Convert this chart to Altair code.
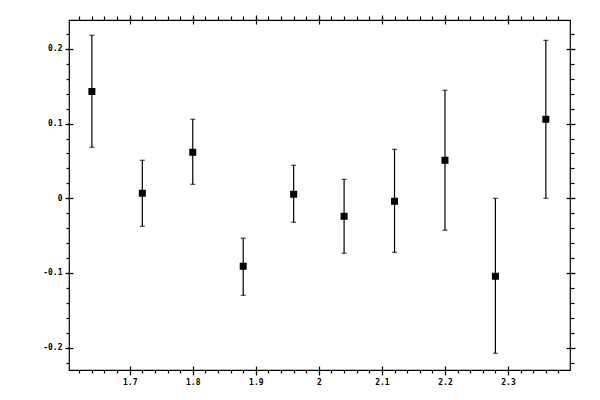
import altair as alt
import pandas as pd

# data
x_vals = [1.64, 1.72, 1.80, 1.88, 1.96, 2.04, 2.12, 2.20, 2.28, 2.36]
y_vals = [0.143, 0.0067, 0.0616, -0.091, 0.0054, -0.0241, -0.0040, 0.0509, -0.1044, 0.1058]
y_low = [0.0683, -0.0375, 0.0187, -0.1299, -0.0321, -0.0736, -0.0723, -0.0428, -0.2075, 0.0]
y_high = [0.2182, 0.0509, 0.1058, -0.0535, 0.0442, 0.0254, 0.0656, 0.1446, 0.0, 0.2115]

# tick positions
x_major = [1.7, 1.8, 1.9, 2.0, 2.1, 2.2, 2.3]
y_major = [-0.2, -0.1, 0.0, 0.1, 0.2]
x_minor = [round(1.62 + 0.02 * i, 2) for i in range(39)]
y_minor = [round(-0.22 + 0.02 * i, 2) for i in range(23)]

df = pd.DataFrame({"x": x_vals, "y": y_vals, "lo": y_low, "hi": y_high})

xs = alt.Scale(domain=[1.6037, 2.3983], nice=False, zero=False)
ys = alt.Scale(domain=[-0.2299, 0.2387], nice=False, zero=False)

FONT = "DejaVu Sans Mono"
LABEL_EXPR = "'' + datum.value"
LW = 1.2


def ax(orient, values, size, offset=0, labels=False):
    kw = dict(orient=orient, values=values, tickSize=size, domain=False, grid=False,
              title="", tickColor="black", tickWidth=LW, labels=labels)
    if offset:
        kw["offset"] = offset
    if labels:
        kw.update(labelExpr=LABEL_EXPR, labelFont=FONT, labelFontSize=8,
                  labelFontWeight="bold", labelColor="black", labelPadding=3)
    return alt.Axis(**kw)


def axis_layer(xaxis, yaxis):
    return alt.Chart(df).mark_point(opacity=0).encode(
        x=alt.X("x:Q", scale=xs, axis=xaxis),
        y=alt.Y("y:Q", scale=ys, axis=yaxis),
    )


layers = [
    axis_layer(ax("bottom", x_major, 5, labels=True), ax("left", y_major, 4, labels=True)),
    axis_layer(ax("bottom", x_major, 4, offset=-4), ax("left", y_major, 4, offset=-4)),
    axis_layer(ax("bottom", x_minor, 3), ax("left", y_minor, 3)),
    axis_layer(ax("top", x_major, 5), ax("right", y_major, 5)),
    axis_layer(ax("top", x_major, 4, offset=-4), ax("right", y_major, 4, offset=-4)),
    axis_layer(ax("top", x_minor, 4), ax("right", y_minor, 4)),
]

base = alt.Chart(df)
rules = base.mark_rule(color="black", strokeWidth=LW).encode(
    x=alt.X("x:Q", scale=xs, axis=None),
    y=alt.Y("lo:Q", scale=ys, axis=None),
    y2="hi:Q",
)
cap_lo = base.mark_tick(color="black", orient="horizontal", size=5, thickness=LW).encode(
    x=alt.X("x:Q", scale=xs, axis=None),
    y=alt.Y("lo:Q", scale=ys, axis=None),
)
cap_hi = base.mark_tick(color="black", orient="horizontal", size=5, thickness=LW).encode(
    x=alt.X("x:Q", scale=xs, axis=None),
    y=alt.Y("hi:Q", scale=ys, axis=None),
)
pts = base.mark_square(color="black", size=49, opacity=1).encode(
    x=alt.X("x:Q", scale=xs, axis=None),
    y=alt.Y("y:Q", scale=ys, axis=None),
)

chart = alt.layer(*layers, rules, cap_lo, cap_hi, pts).resolve_axis(
    x="independent", y="independent"
).properties(
    width=501,
    height=350,
    autosize=alt.AutoSizeParams(type="none"),
    padding={"left": 61, "top": 12, "right": 20, "bottom": 20},
    background="white",
).configure_view(stroke="black", strokeWidth=LW)

chart.save("out.html", embed_options={"renderer": "svg", "actions": False})
